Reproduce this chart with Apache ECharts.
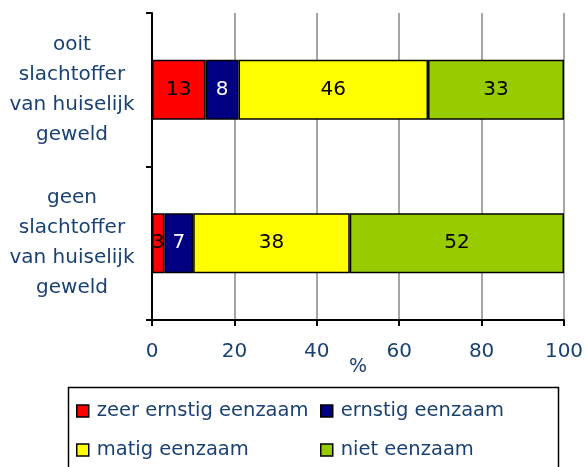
<!DOCTYPE html>
<html><head><meta charset="utf-8">
<script src="https://cdn.jsdelivr.net/npm/echarts@6/dist/echarts.min.js"></script>
<style>html,body{margin:0;padding:0;background:#fff}#c{width:587px;height:467px}</style>
</head><body><div id="c"></div>
<script>
const categories = ['ooit\nslachtoffer\nvan huiselijk\ngeweld', 'geen\nslachtoffer\nvan huiselijk\ngeweld'];
const seriesNames = ['zeer ernstig eenzaam', 'ernstig eenzaam', 'matig eenzaam', 'niet eenzaam'];
const zeerErnstig = [13, 3];
const ernstig = [8, 7];
const matig = [46, 38];
const niet = [33, 52];
const xTicks = [0, 20, 40, 60, 80, 100];

const colors = ['#FF0000', '#000080', '#FFFF00', '#99CC00'];
const labelColors = ['#000', '#fff', '#000', '#000'];
const txt = '#1a4173';
const font = 'DejaVu Sans';
const values = [zeerErnstig, ernstig, matig, niet];

const chart = echarts.init(document.getElementById('c'), null, {renderer: 'canvas'});
chart.setOption({
  animation: false,
  textStyle: {fontFamily: font},
  grid: {left: 152, right: 23, top: 13, bottom: 147, containLabel: false},
  xAxis: {
    type: 'value', min: xTicks[0], max: xTicks[xTicks.length - 1], interval: 20,
    name: '%', nameLocation: 'middle', nameGap: 38, nameMoveOverlap: false,
    nameTextStyle: {color: txt, fontSize: 19, fontFamily: font},
    axisLine: {show: true, lineStyle: {color: '#000', width: 2}},
    axisTick: {show: true, length: 6, lineStyle: {color: '#000', width: 2}},
    axisLabel: {color: txt, fontSize: 20, fontFamily: font, margin: 22},
    splitLine: {show: true, lineStyle: {color: '#A6A6A6', width: 2}}
  },
  yAxis: {
    type: 'category', inverse: true, data: categories,
    axisLine: {show: true, lineStyle: {color: '#000', width: 2}},
    axisTick: {show: true, length: 6, alignWithLabel: false, lineStyle: {color: '#000', width: 2}},
    axisLabel: {color: txt, fontSize: 20, fontFamily: font, align: 'center', margin: 80, lineHeight: 30},
    splitLine: {show: false}
  },
  legend: [
    {orient: 'vertical', left: 71, top: 396, itemWidth: 12, itemHeight: 12, itemGap: 19,
     data: [seriesNames[0], seriesNames[2]],
     textStyle: {color: txt, fontSize: 19.5, fontFamily: font, padding: [0, 0, 0, 3]}, icon: 'rect',
     itemStyle: {borderColor: '#000', borderWidth: 1.5}},
    {orient: 'vertical', left: 315, top: 396, itemWidth: 12, itemHeight: 12, itemGap: 19,
     data: [seriesNames[1], seriesNames[3]],
     textStyle: {color: txt, fontSize: 19.5, fontFamily: font, padding: [0, 0, 0, 3]}, icon: 'rect',
     itemStyle: {borderColor: '#000', borderWidth: 1.5}}
  ],
  graphic: [{type: 'rect', shape: {x: 68.5, y: 387.5, width: 490, height: 100},
    style: {fill: 'none', stroke: '#000', lineWidth: 1.5}, silent: true}],
  series: seriesNames.map((n, i) => ({
    name: n, type: 'bar', stack: 'total', barWidth: 60,
    data: values[i],
    itemStyle: {color: colors[i], borderColor: '#000', borderWidth: 1.5},
    label: {show: true, position: 'inside', color: labelColors[i], fontSize: 20, fontFamily: font}
  }))
});
</script></body></html>
